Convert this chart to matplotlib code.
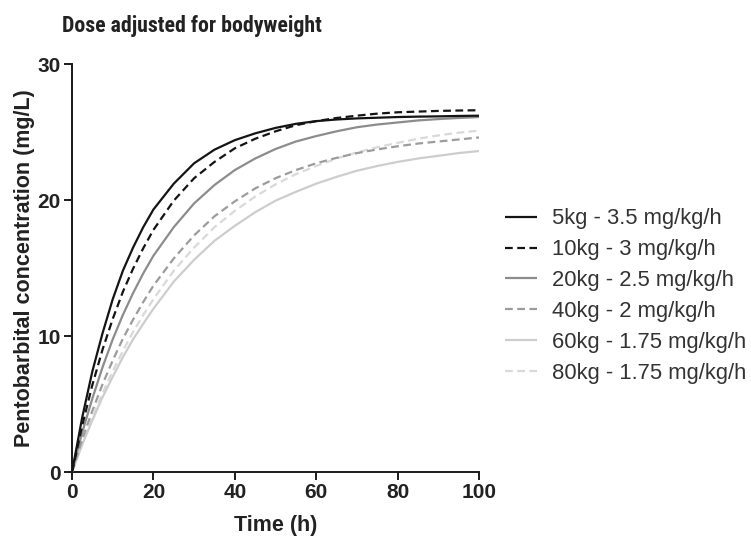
import matplotlib
matplotlib.use("Agg")
import matplotlib.pyplot as plt
from matplotlib import font_manager

# Time points (h) and simulated pentobarbital concentrations (mg/L)
time_h = [0, 2.5, 5, 7.5, 10, 12.5, 15, 17.5, 20, 25, 30, 35, 40, 45, 50, 55, 60,
          65, 70, 75, 80, 85, 90, 95, 100]

conc_5kg = [0, 4.0, 7.4, 10.2, 12.7, 14.8, 16.5, 18.0, 19.3, 21.2, 22.7, 23.7, 24.4, 24.9,
            25.3, 25.6, 25.8, 25.92, 26.0, 26.05, 26.1, 26.13, 26.15, 26.18, 26.2]
conc_10kg = [0, 3.4, 6.4, 9.0, 11.25, 13.25, 14.95, 16.45, 17.8, 19.95, 21.6, 22.8, 23.8, 24.5,
             25.05, 25.5, 25.8, 26.03, 26.2, 26.35, 26.45, 26.5, 26.55, 26.58, 26.6]
conc_20kg = [0, 2.9, 5.4, 7.7, 9.75, 11.55, 13.15, 14.6, 15.9, 18.0, 19.75, 21.1, 22.2, 23.05,
             23.75, 24.3, 24.7, 25.05, 25.35, 25.55, 25.7, 25.85, 25.95, 26.03, 26.1]
conc_40kg = [0, 2.4, 4.5, 6.45, 8.2, 9.8, 11.2, 12.5, 13.7, 15.7, 17.4, 18.8, 19.9, 20.85,
             21.6, 22.2, 22.7, 23.1, 23.45, 23.72, 23.95, 24.15, 24.3, 24.45, 24.6]
conc_60kg = [0, 2.0, 3.8, 5.5, 7.0, 8.45, 9.75, 10.9, 12.0, 14.0, 15.6, 17.0, 18.1, 19.1,
             19.95, 20.6, 21.2, 21.7, 22.15, 22.5, 22.8, 23.05, 23.25, 23.45, 23.6]
conc_80kg = [0, 2.1, 4.0, 5.8, 7.4, 8.9, 10.3, 11.55, 12.7, 14.8, 16.5, 18.0, 19.2, 20.25,
             21.15, 21.9, 22.5, 23.05, 23.5, 23.88, 24.2, 24.5, 24.75, 24.95, 25.1]

series_labels = [
    "5kg - 3.5 mg/kg/h",
    "10kg - 3 mg/kg/h",
    "20kg - 2.5 mg/kg/h",
    "40kg - 2 mg/kg/h",
    "60kg - 1.75 mg/kg/h",
    "80kg - 1.75 mg/kg/h",
]
series_values = [conc_5kg, conc_10kg, conc_20kg, conc_40kg, conc_60kg, conc_80kg]

x_ticks = [0, 20, 40, 60, 80, 100]
y_ticks = [0, 10, 20, 30]

colors = ["#141414", "#141414", "#8c8c8c", "#9c9c9c", "#cdcdcd", "#d9d9d9"]
dashed = [False, True, False, True, False, True]

fonts = font_manager.fontManager.ttflist
installed = {f.name for f in fonts}
base_font = "Liberation Sans" if "Liberation Sans" in installed else "DejaVu Sans"

# Look for a narrow / condensed bold face for the heading
narrow_font = None
narrow_stretch = "normal"
for name in ["Liberation Sans Narrow", "Arial Narrow", "Roboto Condensed",
             "Open Sans Condensed", "Noto Sans Condensed", "DejaVu Sans Condensed"]:
    if name in installed:
        narrow_font = name
        break
if narrow_font is None:
    for f in fonts:
        st = f.stretch if isinstance(f.stretch, str) else ""
        if ("condensed" in st or (isinstance(f.stretch, int) and f.stretch < 500)) and \
                f.name in ("Noto Sans", "Open Sans", "Roboto", "DejaVu Sans", "Inter"):
            narrow_font = f.name
            narrow_stretch = "condensed"
            break

plt.rcParams["font.family"] = [base_font, "DejaVu Sans"]

W, H = 751, 537
fig = plt.figure(figsize=(W / 100, H / 100), dpi=100)
ax = fig.add_axes([72 / W, 1 - 472 / H, (479 - 72) / W, (472 - 64) / H])

lines = []
for i in range(len(series_values)):
    (ln,) = ax.plot(time_h, series_values[i], color=colors[i], lw=1.6,
                    label=series_labels[i], zorder=10 - i,
                    solid_capstyle="butt", dash_capstyle="butt",
                    solid_joinstyle="round")
    if dashed[i]:
        ln.set_dashes((3.5, 2.0))
    lines.append(ln)

ax.set_xlim(0, 100)
ax.set_ylim(0, 30)
ax.set_xticks(x_ticks)
ax.set_yticks(y_ticks)
for side in ("top", "right"):
    ax.spines[side].set_visible(False)
for side in ("left", "bottom"):
    ax.spines[side].set_linewidth(1.4)
    ax.spines[side].set_color("#1a1a1a")
ax.tick_params(axis="both", direction="out", length=6, width=1.4, color="#1a1a1a",
               labelsize=15, labelcolor="#222222", pad=2)
for lab in ax.get_xticklabels() + ax.get_yticklabels():
    lab.set_fontweight("bold")

fig.text(275.5 / W, 1 - 531 / H, "Time (h)", ha="center", va="baseline",
         fontsize=15.5, fontweight="bold", color="#222222")
fig.text(25 / W, 1 - 268 / H, "Pentobarbital concentration (mg/L)", rotation=90,
         ha="center", va="center", fontsize=15.5, fontweight="bold", color="#222222")

title_kw = dict(ha="left", va="baseline", fontweight="bold", color="#222222")
if narrow_font is not None:
    title = fig.text(62 / W, 1 - 32 / H, "Dose adjusted for bodyweight",
                     fontsize=17.5, family=[narrow_font, "DejaVu Sans"],
                     fontstretch=narrow_stretch, **title_kw)
else:
    title = fig.text(62 / W, 1 - 32 / H, "Dose adjusted for bodyweight",
                     fontsize=17.5, **title_kw)
# Keep the heading within its span of about 260 px
fig.canvas.draw()
tw = title.get_window_extent().width
if tw > 262:
    title.set_fontsize(title.get_fontsize() * 260 / tw)

leg = ax.legend(handles=lines, loc="center left", bbox_to_anchor=(505 / W, 1 - 296 / H),
                bbox_transform=fig.transFigure, frameon=False, fontsize=15.8,
                handlelength=1.45, handletextpad=0.7, labelspacing=0.45,
                borderaxespad=0, borderpad=0)
for t in leg.get_texts():
    t.set_color("#333333")

fig.savefig("out.png", dpi=100)
